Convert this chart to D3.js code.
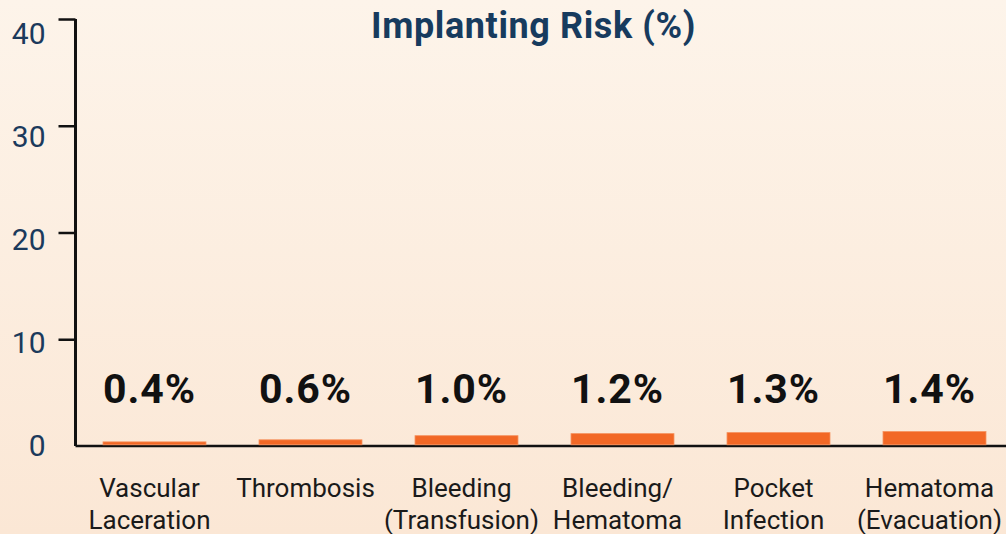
<!DOCTYPE html>
<html>
<head>
<meta charset="utf-8">
<script src="https://cdn.jsdelivr.net/npm/d3@7"></script>
<style>
  html, body { margin: 0; padding: 0; }
  body { width: 1006px; height: 534px; overflow: hidden; font-family: Roboto, 'Noto Sans', sans-serif; }
</style>
</head>
<body>
<div id="chart"></div>
<script>
const categories = [
  ['Vascular', 'Laceration'],
  ['Thrombosis'],
  ['Bleeding', '(Transfusion)'],
  ['Bleeding/', 'Hematoma'],
  ['Pocket', 'Infection'],
  ['Hematoma', '(Evacuation)']
]
const risks = [0.4, 0.6, 1.0, 1.2, 1.3, 1.4]
const valueLabels = ['0.4%', '0.6%', '1.0%', '1.2%', '1.3%', '1.4%']
const yTicks = [0, 10, 20, 30, 40]
const title = 'Implanting Risk (%)'

const fullWidth = 1006,
  fullHeight = 534,
  axisX = 75.5,
  baseY = 446,
  topY = 19

const svg = d3.select('#chart')
  .append('svg')
    .attr('width', fullWidth)
    .attr('height', fullHeight)

// background gradient
const grad = svg.append('defs').append('linearGradient')
  .attr('id', 'bg')
  .attr('x1', 0).attr('y1', 0).attr('x2', 0).attr('y2', 1)
grad.append('stop').attr('offset', '0%').attr('stop-color', '#fdf4ea')
grad.append('stop').attr('offset', '100%').attr('stop-color', '#fbe7d5')
svg.append('rect')
  .attr('width', fullWidth)
  .attr('height', fullHeight)
  .attr('fill', 'url(#bg)')

const data = categories.map((c, i) => ({ key: c.join(' '), lines: c, value: risks[i], label: valueLabels[i] }))

const xScale = d3.scaleBand()
  .domain(data.map(d => d.key))
  .range([axisX + 1, axisX + 1 + 6 * 156])
  .paddingInner(0.34)
  .paddingOuter(0.17)

// bars and labels share this scale
const yScale = d3.scaleLinear()
  .domain([0, 40])
  .range([baseY, 34])

// tick marks run the full axis height
const tickScale = d3.scaleLinear()
  .domain([0, 40])
  .range([baseY, topY])

// y axis
const yAxis = svg.append('g')
  .attr('transform', `translate(${axisX}, 0)`)
  .call(d3.axisLeft(tickScale).tickValues(yTicks).tickSize(17).tickSizeOuter(0).tickPadding(13))
yAxis.select('.domain').attr('d', `M0,${topY}V${baseY}`)
  .attr('stroke', '#111').attr('stroke-width', 3).attr('fill', 'none')
yAxis.selectAll('.tick line').attr('stroke', '#111').attr('stroke-width', 2.5)
yAxis.selectAll('.tick').filter(d => d === 0).select('line').remove()
yAxis.selectAll('.tick text')
  .attr('y', d => yScale(d) - tickScale(d))
  .attr('fill', '#1b3a5c')
  .style('font-size', '30px')
  .style('font-family', 'Roboto')

// x axis line
svg.append('line')
  .attr('x1', axisX)
  .attr('x2', fullWidth)
  .attr('y1', baseY)
  .attr('y2', baseY)
  .attr('stroke', '#111')
  .attr('stroke-width', 2.5)

// bars
svg.selectAll('.bar')
  .data(data)
  .enter()
  .append('rect')
  .attr('class', 'bar')
  .attr('x', d => xScale(d.key))
  .attr('width', xScale.bandwidth())
  .attr('y', d => yScale(d.value))
  .attr('height', d => baseY - 1.2 - yScale(d.value))
  .attr('fill', '#f26826')
  .attr('stroke', '#f5905c')
  .attr('stroke-width', 0.8)

// value labels
svg.selectAll('.val')
  .data(data)
  .enter()
  .append('text')
  .attr('class', 'val')
  .attr('x', d => xScale(d.key) + xScale.bandwidth() / 2 - 5)
  .attr('y', 403)
  .attr('text-anchor', 'middle')
  .style('font-family', 'Roboto')
  .style('font-weight', 'bold')
  .style('font-size', '41px')
  .style('letter-spacing', '1px')
  .attr('fill', '#111')
  .text(d => d.label)

// category labels
const cat = svg.selectAll('.cat')
  .data(data)
  .enter()
  .append('text')
  .attr('class', 'cat')
  .attr('text-anchor', 'middle')
  .style('font-family', 'Roboto')
  .style('font-size', '26px')
  .attr('fill', '#1a1a1a')
cat.selectAll('tspan')
  .data(d => d.lines.map(l => ({ line: l, x: xScale(d.key) + xScale.bandwidth() / 2 - 5 })))
  .enter()
  .append('tspan')
  .attr('x', t => t.x)
  .attr('y', (t, i) => 497 + i * 31.5)
  .text(t => t.line)

// title
svg.append('text')
  .attr('x', 533.5)
  .attr('y', 38)
  .attr('text-anchor', 'middle')
  .style('font-family', 'Roboto')
  .style('font-weight', 'bold')
  .style('font-size', '36px')
  .style('letter-spacing', '0.6px')
  .attr('fill', '#173b5e')
  .text(title)
</script>
</body>
</html>
